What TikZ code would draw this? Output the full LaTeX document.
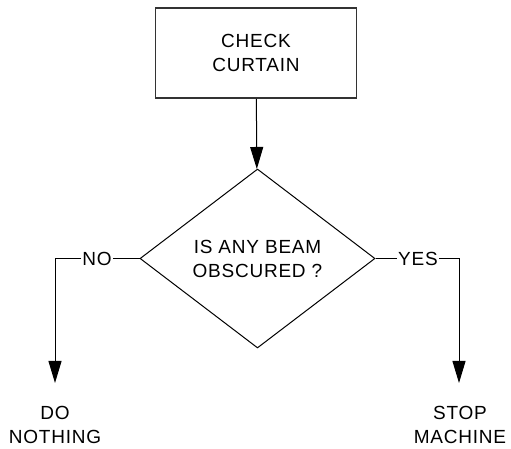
\documentclass[tikz,border=0pt]{standalone}
\usepackage{fontspec}
\setmainfont[LetterSpace=4]{Liberation Sans}
\usetikzlibrary{shapes.geometric,arrows.meta}

\begin{document}
\begin{tikzpicture}[x=1pt,y=1pt,
  label text/.style={font=\fontsize{19}{24}\selectfont,align=center,inner sep=1pt},
  flow/.style={line width=1pt,-{Triangle[length=22pt,width=13pt]}}]

\useasboundingbox (0,0) rectangle (511,449);

% check curtain node
\node[label text,rectangle,draw=black!80,line width=1.8pt,minimum width=201pt,minimum height=90pt] (check) at (256,396) {CHECK\\CURTAIN};

% beam decision node
\node[label text,diamond,draw,line width=1pt,inner sep=0pt,minimum width=235pt,minimum height=179pt] (beam) at (257.5,190.5) {IS ANY BEAM\\OBSCURED ?};

\draw[flow] (check) -- (beam);

% no branch
\node[label text,fill=white] (no) at (97,190.5) {NO};
\coordinate (no corner) at (55,190.5);
\node[label text] (nothing) at (55,24) {DO\\NOTHING};
\coordinate (no end) at (55,66);

\draw[line width=1pt] (beam.west) -- (no);
\draw[flow] (no) -- (no corner) -- (no end);

% yes branch
\node[label text,fill=white] (yes) at (418,190.5) {YES};
\coordinate (yes corner) at (459,190.5);
\node[label text] (stop) at (460,24) {STOP\\MACHINE};
\coordinate (yes end) at (459,66);

\draw[line width=1pt] (beam.east) -- (yes);
\draw[flow] (yes) -- (yes corner) -- (yes end);

\end{tikzpicture}
\end{document}
